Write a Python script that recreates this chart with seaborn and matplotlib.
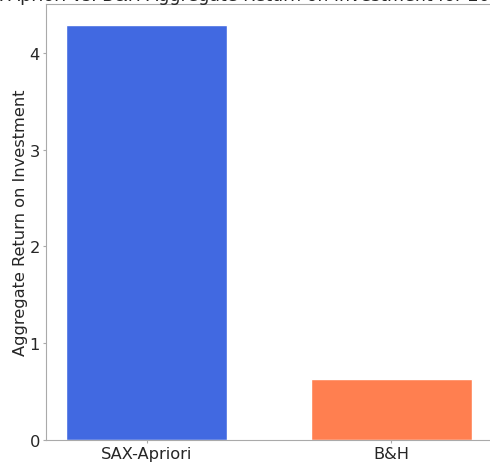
import matplotlib
matplotlib.use("Agg")
import matplotlib.pyplot as plt
import seaborn as sns

strategies = ["SAX-Apriori", "B&H"]
returns = [4.29, 0.63]
colors = ["royalblue", "coral"]

sns.set_style("white")
plt.rcParams["font.family"] = ["DejaVu Sans"]

fig = plt.figure(figsize=(4.9, 4.64), dpi=100)
ax = fig.add_axes([0.094, 0.0496, 0.91, 0.9394])
sns.barplot(x=strategies, y=returns, palette=colors, hue=strategies, legend=False,
            width=0.66, saturation=1, ax=ax)
ax.set_xlim(-0.413, 1.413)
ax.set_ylim(0, 4.505)
ax.set_ylabel("Aggregate Return on Investment", fontsize=11.7, labelpad=1)
ax.set_xlabel("")
ax.tick_params(axis="both", labelsize=11.7, length=2.5, pad=2, color="#aaaaaa", left=True, bottom=True)
for s in ax.spines.values():
    s.set_color("#aaaaaa")
fig.suptitle("SAX-Apriori vs. B&H Aggregate Return on Investment for 2020", fontsize=12.5, x=0.49, y=1.0285)

fig.savefig("out.png", dpi=100)
